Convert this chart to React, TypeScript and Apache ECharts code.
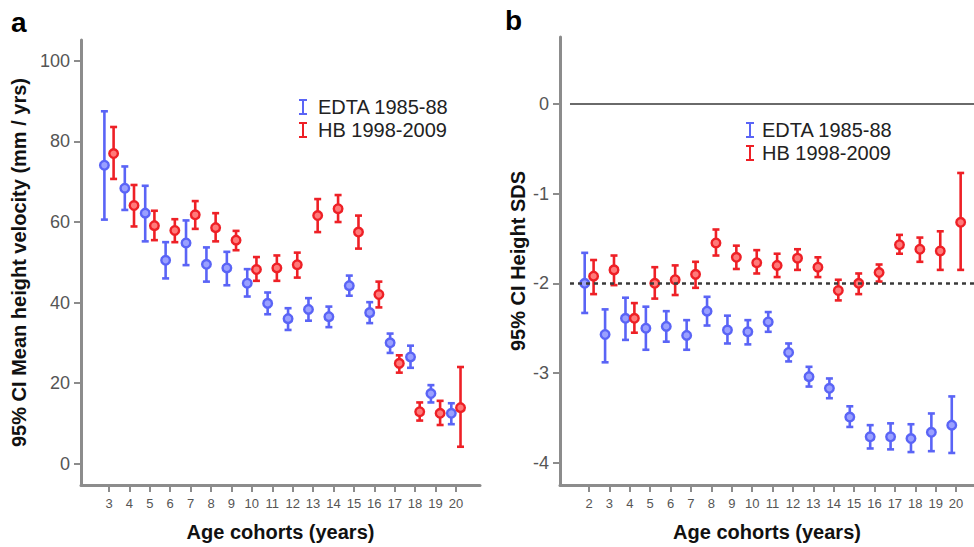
import React, { useEffect, useRef } from "react";
import * as echarts from "echarts";

// Panel a: mean height velocity (mm / yrs)
const agesA = [3, 4, 5, 6, 7, 8, 9, 10, 11, 12, 13, 14, 15, 16, 17, 18, 19, 20];
const edtaAMean = [74.1, 68.4, 62.2, 50.5, 54.8, 49.5, 48.6, 44.8, 39.8, 36.0, 38.3, 36.5, 44.2, 37.5, 30.0, 26.5, 17.4, 12.5];
const edtaALo = [60.6, 63.0, 55.2, 46.0, 49.3, 45.2, 44.3, 41.5, 37.1, 33.2, 35.5, 33.9, 41.7, 34.9, 27.5, 23.8, 15.2, 9.8];
const edtaAHi = [87.5, 73.8, 69.0, 55.0, 60.4, 53.7, 52.6, 48.3, 42.5, 38.6, 41.1, 39.0, 46.7, 40.1, 32.3, 29.3, 19.5, 15.0];
const hbAMean = [77.0, 64.1, 59.1, 57.9, 61.8, 58.6, 55.5, 48.2, 48.6, 49.4, 61.6, 63.3, 57.5, 42.0, 24.9, 12.9, 12.5, 13.9];
const hbALo = [70.7, 58.9, 55.5, 55.0, 58.3, 55.2, 53.0, 45.4, 45.4, 46.2, 57.5, 60.0, 53.4, 38.8, 22.6, 10.7, 9.6, 4.2];
const hbAHi = [83.6, 69.2, 62.8, 60.7, 65.2, 62.2, 57.8, 51.3, 51.7, 52.4, 65.7, 66.7, 61.6, 45.2, 26.9, 15.2, 15.6, 24.0];
const yTicksA = [0, 20, 40, 60, 80, 100];

// Panel b: height SDS
const agesB = [2, 3, 4, 5, 6, 7, 8, 9, 10, 11, 12, 13, 14, 15, 16, 17, 18, 19, 20];
const edtaBMean = [-2.0, -2.57, -2.39, -2.5, -2.48, -2.58, -2.31, -2.52, -2.54, -2.43, -2.77, -3.04, -3.17, -3.49, -3.71, -3.71, -3.73, -3.66, -3.58];
const edtaBLo = [-2.33, -2.88, -2.63, -2.74, -2.65, -2.74, -2.47, -2.67, -2.68, -2.54, -2.87, -3.15, -3.28, -3.6, -3.84, -3.85, -3.88, -3.87, -3.89];
const edtaBHi = [-1.66, -2.29, -2.16, -2.26, -2.31, -2.41, -2.15, -2.36, -2.41, -2.32, -2.67, -2.93, -3.06, -3.37, -3.58, -3.56, -3.57, -3.45, -3.26];
const hbBMean = [-1.92, -1.85, -2.39, -2.0, -1.96, -1.9, -1.55, -1.71, -1.77, -1.8, -1.72, -1.82, -2.08, -2.0, -1.88, -1.57, -1.62, -1.64, -1.32];
const hbBLo = [-2.12, -2.02, -2.55, -2.17, -2.13, -2.05, -1.69, -1.84, -1.89, -1.93, -1.85, -1.93, -2.19, -2.12, -1.98, -1.67, -1.76, -1.85, -1.85];
const hbBHi = [-1.74, -1.69, -2.22, -1.82, -1.8, -1.76, -1.4, -1.58, -1.63, -1.67, -1.62, -1.71, -1.96, -1.89, -1.79, -1.46, -1.49, -1.42, -0.77];
const yTicksB = [0, -1, -2, -3, -4];
const refLinesB = [0, -2];

const seriesNames = ["EDTA 1985-88", "HB 1998-2009"];

const BLUE = "#5a64f6";
const BLUE_FILL = "#9aa0ff";
const RED = "#ee2026";
const RED_FILL = "#ff7a7a";
const FONT = "'Liberation Sans', Arial, Helvetica, sans-serif";
const AXIS_GRAY = "#8c8c8c";

function rows(ages: number[], m: number[], lo: number[], hi: number[]) {
  return ages.map((a, i) => [a, m[i], lo[i], hi[i]]);
}

function renderer(color: string, fill: string, dx: number) {
  return (params: any, api: any) => {
    const x = api.value(0);
    const pm = api.coord([x, api.value(1)]);
    const pl = api.coord([x, api.value(2)]);
    const ph = api.coord([x, api.value(3)]);
    const cx = pm[0] + dx;
    const cap = 3.5;
    const st = { stroke: color, lineWidth: 2.6 };
    return {
      type: "group",
      children: [
        { type: "line", shape: { x1: cx, y1: ph[1], x2: cx, y2: pl[1] }, style: st },
        { type: "line", shape: { x1: cx - cap, y1: ph[1], x2: cx + cap, y2: ph[1] }, style: st },
        { type: "line", shape: { x1: cx - cap, y1: pl[1], x2: cx + cap, y2: pl[1] }, style: st },
        { type: "circle", shape: { cx, cy: pm[1], r: 4.3 }, style: { fill, stroke: color, lineWidth: 2.4 } },
      ],
    };
  };
}

const xMinA = 1.628, xMaxA = 21.18;
const xMinB = 0.578, xMaxB = 20.88;

function xAxisCfg(gridIndex: number, min: number, max: number, ticks: number[]) {
  return {
    type: "value",
    gridIndex,
    min,
    max,
    name: "Age cohorts (years)",
    nameLocation: "middle",
    nameGap: 37,
    nameTextStyle: { fontFamily: FONT, fontSize: 20, fontWeight: "bold", color: "#111" },
    axisLine: { onZero: false, lineStyle: { color: AXIS_GRAY, width: 3 } },
    axisTick: { show: true, customValues: ticks, length: 7, lineStyle: { color: AXIS_GRAY, width: 2 } },
    axisLabel: { customValues: ticks, margin: 12, fontSize: 13, color: "#555", fontFamily: FONT },
    splitLine: { show: false },
  };
}

function yAxisCfg(gridIndex: number, min: number, max: number, ticks: number[], name: string, gap: number) {
  return {
    type: "value",
    gridIndex,
    min,
    max,
    name,
    nameLocation: "middle",
    nameGap: gap,
    nameRotate: 90,
    nameTextStyle: { fontFamily: FONT, fontSize: 20, fontWeight: "bold", color: "#111" },
    axisLine: { onZero: false, lineStyle: { color: AXIS_GRAY, width: 3 } },
    axisTick: { show: true, customValues: ticks, length: 7, lineStyle: { color: AXIS_GRAY, width: 2 } },
    axisLabel: { customValues: ticks, margin: 11, fontSize: 18, color: "#555", fontFamily: FONT },
    splitLine: { show: false },
  };
}

const ICON = "path://M0,0H8V2H5V14H8V16H0V14H3V2H0Z";

export default function App() {
  const ref = useRef<HTMLDivElement>(null);
  useEffect(() => {
    if (!ref.current) return;
    const chart = echarts.init(ref.current, null, { renderer: "svg" });
    const legendCfg = (left: number, top: number, pad: number) => ({
      orient: "vertical",
      left,
      top,
      itemWidth: 8,
      itemHeight: 16,
      itemGap: 3,
      icon: ICON,
      data: seriesNames,
      selectedMode: false,
      textStyle: { fontFamily: FONT, fontSize: 20, color: "#222", padding: [0, 0, 0, pad] },
    });
    chart.setOption({
      animation: false,
      backgroundColor: "#fff",
      grid: [
        { left: 81, top: 40, width: 399, height: 448 },
        { left: 560, top: 37, width: 414, height: 451 },
      ],
      xAxis: [xAxisCfg(0, xMinA, xMaxA, agesA), xAxisCfg(1, xMinB, xMaxB, agesB)],
      yAxis: [
        yAxisCfg(0, -5.3, 105.2, yTicksA, "95% CI Mean height velocity (mm / yrs)", 52),
        yAxisCfg(1, -4.247, 0.745, yTicksB, "95% CI Height SDS", 32),
      ],
      legend: [legendCfg(294, 92, 6), legendCfg(741, 115, 3)],
      graphic: [
        { type: "text", left: 11, top: 8, style: { text: "a", font: `bold 28px ${FONT}`, fill: "#000" } },
        { type: "text", left: 505, top: 6, style: { text: "b", font: `bold 28px ${FONT}`, fill: "#000" } },
      ],
      series: [
        {
          type: "custom",
          name: seriesNames[0],
          xAxisIndex: 0,
          yAxisIndex: 0,
          itemStyle: { color: BLUE },
          renderItem: renderer(BLUE, BLUE_FILL, -4.6),
          encode: { x: 0, y: [1, 2, 3] },
          data: rows(agesA, edtaAMean, edtaALo, edtaAHi),
        },
        {
          type: "custom",
          name: seriesNames[1],
          xAxisIndex: 0,
          yAxisIndex: 0,
          itemStyle: { color: RED },
          renderItem: renderer(RED, RED_FILL, 4.6),
          encode: { x: 0, y: [1, 2, 3] },
          data: rows(agesA, hbAMean, hbALo, hbAHi),
        },
        {
          type: "custom",
          name: seriesNames[0],
          xAxisIndex: 1,
          yAxisIndex: 1,
          itemStyle: { color: BLUE },
          renderItem: renderer(BLUE, BLUE_FILL, -4.3),
          encode: { x: 0, y: [1, 2, 3] },
          data: rows(agesB, edtaBMean, edtaBLo, edtaBHi),
          markLine: {
            silent: true,
            symbol: ["none", "none"],
            label: { show: false },
            data: [
              [
                { coord: [xMinB + 0.49, refLinesB[0]], lineStyle: { type: "solid", color: "#6a6a6a", width: 1.8 } },
                { coord: [xMaxB, refLinesB[0]] },
              ],
              [
                { coord: [xMinB + 0.49, refLinesB[1]], lineStyle: { type: [4, 4], color: "#3a3a3a", width: 2.5 } },
                { coord: [xMaxB, refLinesB[1]] },
              ],
            ],
          },
        },
        {
          type: "custom",
          name: seriesNames[1],
          xAxisIndex: 1,
          yAxisIndex: 1,
          itemStyle: { color: RED },
          renderItem: renderer(RED, RED_FILL, 4.6),
          encode: { x: 0, y: [1, 2, 3] },
          data: rows(agesB, hbBMean, hbBLo, hbBHi),
        },
      ],
    });
    return () => chart.dispose();
  }, []);
  return (
    <div
      ref={ref}
      style={{ position: "fixed", left: 0, top: 0, width: 974, height: 547, background: "#fff" }}
    />
  );
}
